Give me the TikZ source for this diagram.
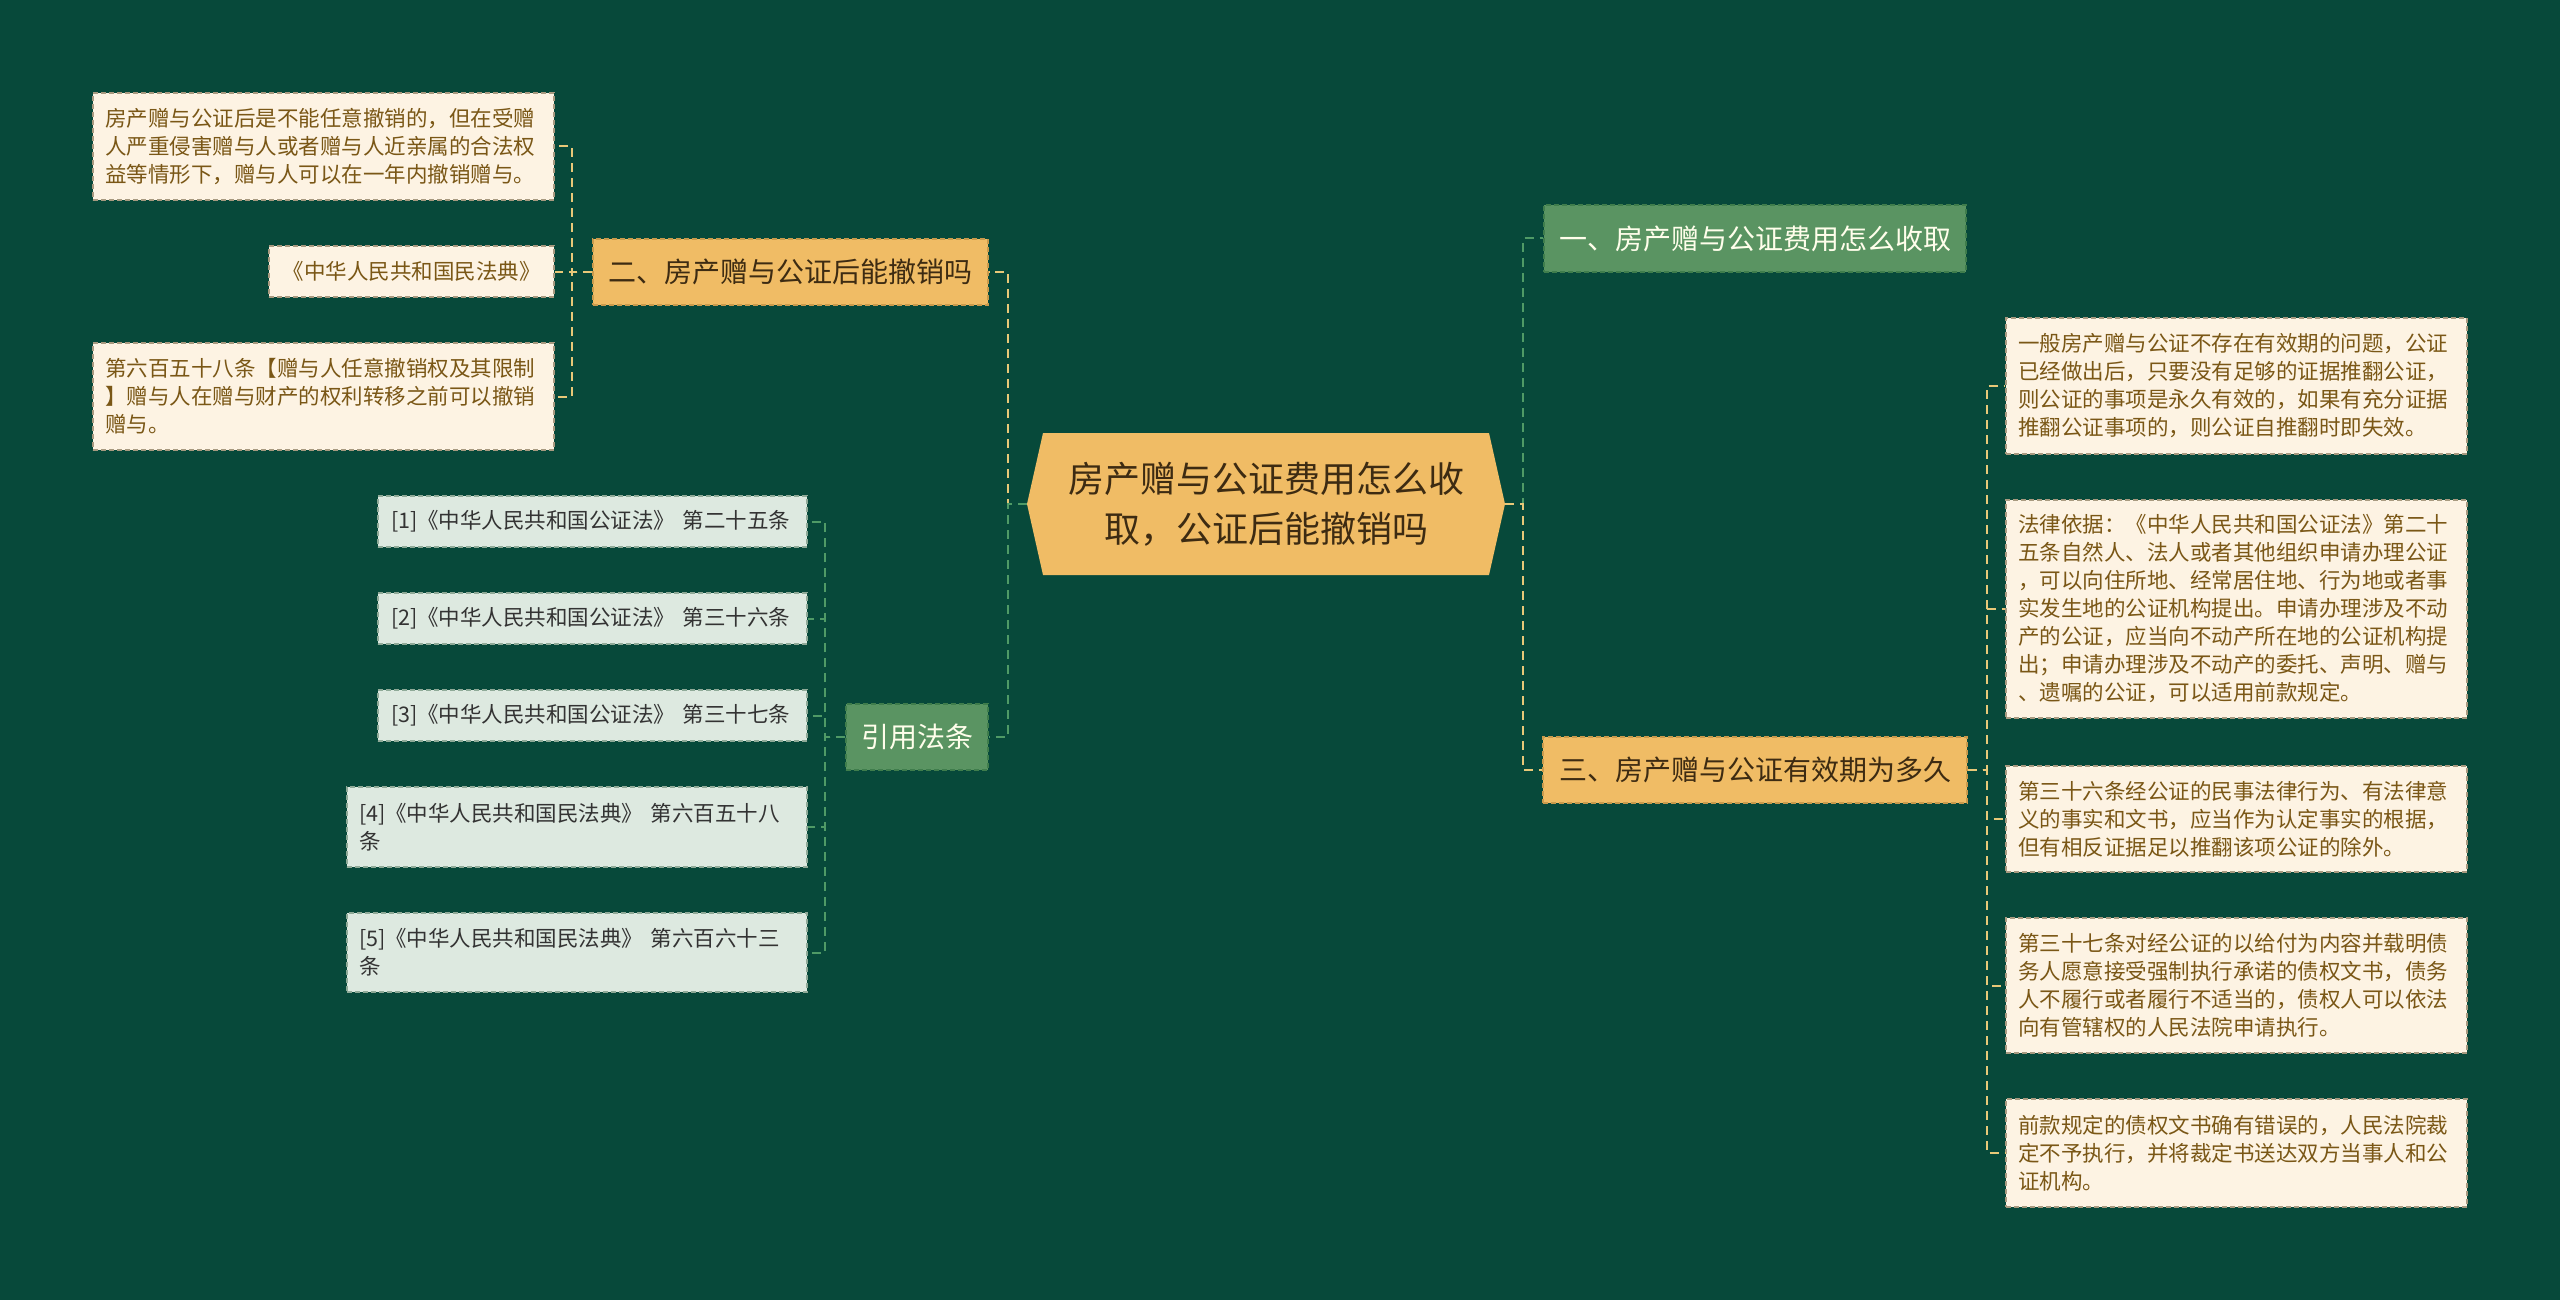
\documentclass[tikz,border=0pt]{standalone}
\usepackage{fontspec}
\setmainfont{Noto Sans CJK SC}
\definecolor{bg}{HTML}{07493A}
\definecolor{yel}{HTML}{F0BC65}
\definecolor{yelb}{HTML}{C99A4C}
\definecolor{grn}{HTML}{5A9462}
\definecolor{grnb}{HTML}{3F7D4C}
\definecolor{cream}{HTML}{FDF3E3}
\definecolor{creamb}{HTML}{A89A80}
\definecolor{lgrn}{HTML}{DDE9E0}
\definecolor{lgrnb}{HTML}{8FAA98}
\definecolor{brn}{HTML}{7A5716}
\definecolor{dtxt}{HTML}{3D2B12}
\definecolor{ylink}{HTML}{E8C878}
\definecolor{glink}{HTML}{4F9A66}
\tikzset{
 box/.style={rectangle, inner sep=0pt, dash pattern=on 5pt off 3pt, line width=1.3pt},
 leaf/.style={box, fill=cream, draw=creamb, text=brn, font=\fontsize{21.5}{28}\selectfont, align=left},
 refbox/.style={box, fill=lgrn, draw=lgrnb, text=black!80, font=\fontsize{21.5}{28}\selectfont, align=left},
 yhead/.style={box, fill=yel, draw=yelb, text=dtxt, font=\fontsize{28}{34}\selectfont},
 ghead/.style={box, fill=grn, draw=grnb, text=white!92!yellow, font=\fontsize{28}{34}\selectfont},
 ylk/.style={draw=ylink, line width=2pt, dash pattern=on 9pt off 6pt},
 glk/.style={draw=glink, line width=2pt, dash pattern=on 9pt off 6pt},
}
\begin{document}
\begin{tikzpicture}[x=1pt,y=-1pt]
\useasboundingbox (0,0) rectangle (2560,1300);
\fill[bg] (0,0) rectangle (2560,1300);
% central hexagon
\fill[yel] (1027,504) -- (1043,433) -- (1489,433) -- (1505,504) -- (1489,575) -- (1043,575) -- cycle;
\node[font=\fontsize{36}{50}\selectfont, text=dtxt, align=center, minimum width=478pt, minimum height=142pt, inner sep=0pt] (c) at (1266,504) {房产赠与公证费用怎么收\\取，公证后能撤销吗};
% main branches
\node[yhead, minimum width=395pt, minimum height=66pt] (n2) at (790.5,272) {二、房产赠与公证后能撤销吗};
\node[ghead, minimum width=142pt, minimum height=66pt] (yf) at (917,737) {引用法条};
\node[ghead, minimum width=422pt, minimum height=67pt] (n1) at (1755,238.5) {一、房产赠与公证费用怎么收取};
\node[yhead, minimum width=424pt, minimum height=66pt] (n3) at (1755,770) {三、房产赠与公证有效期为多久};
% left leaves
\node[leaf, minimum width=461pt, minimum height=107pt, text width=437pt] (l1) at (323.5,146.5) {房产赠与公证后是不能任意撤销的，但在受赠\\人严重侵害赠与人或者赠与人近亲属的合法权\\益等情形下，赠与人可以在一年内撤销赠与。};
\node[leaf, minimum width=285pt, minimum height=51pt, align=center] (l2) at (411.5,271.5) {《中华人民共和国民法典》};
\node[leaf, minimum width=461pt, minimum height=107pt, text width=437pt] (l3) at (323.5,396.5) {第六百五十八条【赠与人任意撤销权及其限制\\】赠与人在赠与财产的权利转移之前可以撤销\\赠与。};
% references
\node[refbox, minimum width=429pt, minimum height=51pt, text width=403pt] (c1) at (592.5,521.5) {[1]《中华人民共和国公证法》 第二十五条};
\node[refbox, minimum width=429pt, minimum height=51pt, text width=403pt] (c2) at (592.5,618.5) {[2]《中华人民共和国公证法》 第三十六条};
\node[refbox, minimum width=429pt, minimum height=51pt, text width=403pt] (c3) at (592.5,715.5) {[3]《中华人民共和国公证法》 第三十七条};
\node[refbox, minimum width=460pt, minimum height=80pt, text width=436pt] (c4) at (577,827) {[4]《中华人民共和国民法典》 第六百五十八\\条};
\node[refbox, minimum width=460pt, minimum height=79pt, text width=436pt] (c5) at (577,952.5) {[5]《中华人民共和国民法典》 第六百六十三\\条};
% right leaves
\node[leaf, minimum width=461pt, minimum height=136pt, text width=437pt] (r1) at (2236.5,386) {一般房产赠与公证不存在有效期的问题，公证\\已经做出后，只要没有足够的证据推翻公证，\\则公证的事项是永久有效的，如果有充分证据\\推翻公证事项的，则公证自推翻时即失效。};
\node[leaf, minimum width=461pt, minimum height=218pt, text width=437pt] (r2) at (2236.5,609) {法律依据：《中华人民共和国公证法》第二十\\五条自然人、法人或者其他组织申请办理公证\\，可以向住所地、经常居住地、行为地或者事\\实发生地的公证机构提出。申请办理涉及不动\\产的公证，应当向不动产所在地的公证机构提\\出；申请办理涉及不动产的委托、声明、赠与\\、遗嘱的公证，可以适用前款规定。};
\node[leaf, minimum width=461pt, minimum height=106pt, text width=437pt] (r3) at (2236.5,819) {第三十六条经公证的民事法律行为、有法律意\\义的事实和文书，应当作为认定事实的根据，\\但有相反证据足以推翻该项公证的除外。};
\node[leaf, minimum width=461pt, minimum height=135pt, text width=437pt] (r4) at (2236.5,985.5) {第三十七条对经公证的以给付为内容并载明债\\务人愿意接受强制执行承诺的债权文书，债务\\人不履行或者履行不适当的，债权人可以依法\\向有管辖权的人民法院申请执行。};
\node[leaf, minimum width=461pt, minimum height=108pt, text width=437pt] (r5) at (2236.5,1153) {前款规定的债权文书确有错误的，人民法院裁\\定不予执行，并将裁定书送达双方当事人和公\\证机构。};
% connectors
\draw[ylk] (c.west) -- ++(-19,0) |- (n2.east);
\draw[glk] (c.west) -- ++(-19,0) |- (yf.east);
\draw[glk] (c.east) -- ++(18,0) |- (n1.west);
\draw[ylk] (c.east) -- ++(18,0) |- (n3.west);
\foreach \t in {l1,l2,l3} \draw[ylk] (n2.west) -- ++(-20,0) |- (\t.east);
\foreach \t in {c1,c2,c3,c4,c5} \draw[glk] (yf.west) -- ++(-20,0) |- (\t.east);
\foreach \t in {r1,r2,r3,r4,r5} \draw[ylk] (n3.east) -- ++(19,0) |- (\t.west);
\end{tikzpicture}
\end{document}
